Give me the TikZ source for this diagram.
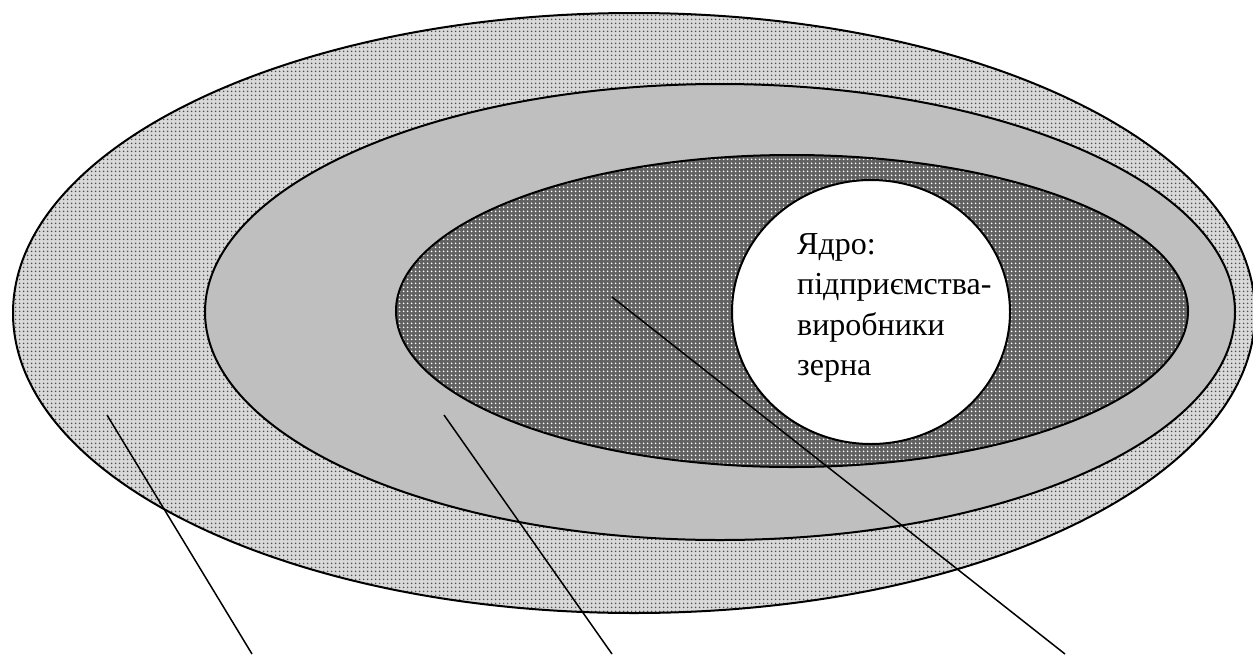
\documentclass[tikz,border=0pt]{standalone}
\usepackage{fontspec}
\setmainfont{Liberation Serif}
\usetikzlibrary{patterns.meta}

\tikzset{
  zone_border/.style={draw=black, line width=2pt},
  dots_zone/.style={zone_border,
    preaction={fill=gray!30},
    preaction={pattern={Dots[radius=1pt, distance=4pt]}, pattern color=black!70}},
  plain_zone/.style={zone_border, fill=gray!50},
  check_zone/.style={zone_border,
    preaction={fill=black!62},
    preaction={pattern={Dots[radius=1.15pt, distance=4pt]}, pattern color=white}},
  core_zone/.style={zone_border, fill=white},
  core_text/.style={anchor=north west, inner sep=0pt, align=left,
    font=\fontsize{32}{40.5}\selectfont},
  pointer/.style={line width=1.5pt}
}

\begin{document}
\begin{tikzpicture}[x=1pt, y=-1pt]
  \useasboundingbox (0,0) rectangle (1253,654);

  % zone centres
  \coordinate (c_outer) at (634,313);
  \coordinate (c_mid) at (720,312);
  \coordinate (c_inner) at (792,311);
  \coordinate (c_core) at (871,312);

  % zones
  \path[dots_zone] (c_outer) ellipse [x radius=621, y radius=300];
  \path[plain_zone] (c_mid) ellipse [x radius=515, y radius=228];
  \path[check_zone] (c_inner) ellipse [x radius=396, y radius=156];
  \path[core_zone] (c_core) ellipse [x radius=139, y radius=132];

  % core label
  \node[core_text] (core) at (797,233) {Ядро:\\підприємства-\\виробники\\зерна};

  % pointer ends
  \coordinate (p_outer) at (107,415);
  \coordinate (p_mid) at (444,415);
  \coordinate (p_inner) at (612,297);
  \coordinate (e_outer) at (252,654);
  \coordinate (e_mid) at (612,654);
  \coordinate (e_inner) at (1065,654);

  % pointers
  \draw[pointer] (p_outer) -- (e_outer);
  \draw[pointer] (p_mid) -- (e_mid);
  \draw[pointer] (p_inner) -- (e_inner);
\end{tikzpicture}
\end{document}
